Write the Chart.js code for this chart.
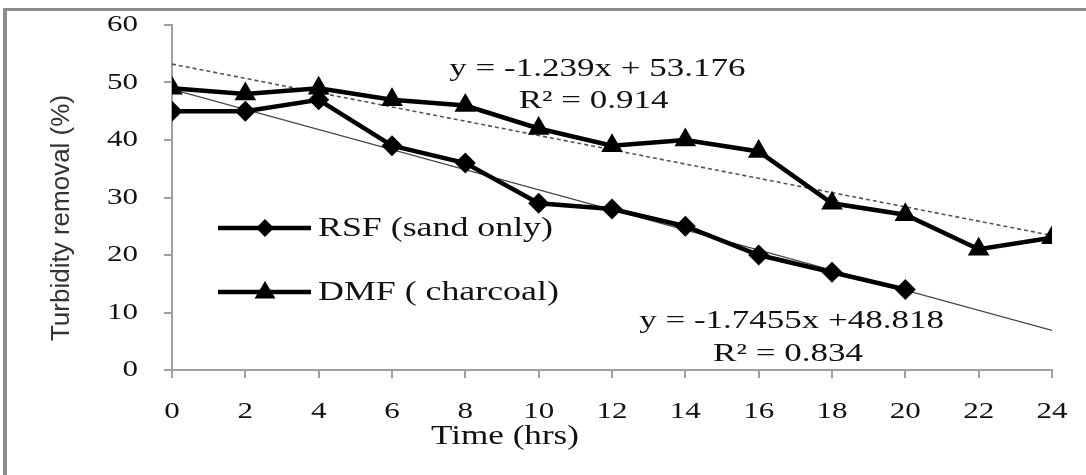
<!DOCTYPE html>
<html>
<head>
<meta charset="utf-8">
<script src="https://cdn.jsdelivr.net/npm/chart.js@4.4.0/dist/chart.umd.min.js"></script>
<style>
  html, body { margin: 0; padding: 0; background: #fff; }
  #wrap { position: relative; width: 1086px; height: 475px; overflow: hidden; }
  /* 원본 그림의 회색 테두리 (왼쪽/위쪽만 보임) */
  #frame { position: absolute; left: 3px; top: 8px; right: -10px; bottom: -10px;
           border-left: 4px solid #8c8c8c; border-top: 3px solid #8c8c8c; }
  canvas { position: absolute; left: 0; top: 0; }
</style>
</head>
<body>
<div id="wrap">
  <div id="frame"></div>
  <canvas id="chart" width="1086" height="475"></canvas>
</div>
<script>
// === 데이터 ===
const hoursRSF = [0, 2, 4, 6, 8, 10, 12, 14, 16, 18, 20];
const rsfRemoval = [45, 45, 47, 39, 36, 29, 28, 25, 20, 17, 14];

const hoursDMF = [0, 2, 4, 6, 8, 10, 12, 14, 16, 18, 20, 22, 24];
const dmfRemoval = [49, 48, 49, 47, 46, 42, 39, 40, 38, 29, 27, 21, 23];

// 추세선 끝점
const trendHours = [0, 24];
const dmfTrend = [53.2, 23.4];
const rsfTrend = [48.8, 6.9];

const timeTicks = [0, 2, 4, 6, 8, 10, 12, 14, 16, 18, 20, 22, 24];
const removalTicks = [0, 10, 20, 30, 40, 50, 60];

const seriesNames = ['RSF (sand only)', 'DMF ( charcoal)'];
const dmfEquation = ['y = -1.239x + 53.176', 'R\u00b2 = 0.914'];
const rsfEquation = ['y = -1.7455x +48.818', 'R\u00b2 = 0.834'];
const xTitle = 'Time (hrs)';
const yTitle = 'Turbidity removal (%)';

const toPoints = (xs, ys) => xs.map((x, i) => ({ x, y: ys[i] }));

const SERIF = '"Liberation Serif", "Times New Roman", serif';
const SANS = '"Liberation Sans", Arial, sans-serif';
const AXIS_GRAY = '#a0a0a0';

// 가로로 약간 늘린 텍스트 (원본 이미지가 가로로 늘어나 있음)
function stretchText(ctx, text, x, y, size, sx, align) {
  ctx.save();
  ctx.font = `${size}px ${SERIF}`;
  ctx.fillStyle = '#111';
  ctx.textBaseline = 'middle';
  const w = ctx.measureText(text).width * sx;
  let left = x;
  if (align === 'center') left = x - w / 2;
  else if (align === 'right') left = x - w;
  ctx.translate(left, y);
  ctx.scale(sx, 1);
  ctx.textAlign = 'left';
  ctx.fillText(text, 0, 0);
  ctx.restore();
}

function marker(ctx, style, x, y, r) {
  ctx.beginPath();
  if (style === 'triangle') {
    ctx.moveTo(x, y - r);
    ctx.lineTo(x + r * 0.95, y + r * 0.6);
    ctx.lineTo(x - r * 0.95, y + r * 0.6);
  } else {
    ctx.moveTo(x, y - r);
    ctx.lineTo(x + r, y);
    ctx.lineTo(x, y + r);
    ctx.lineTo(x - r, y);
  }
  ctx.closePath();
  ctx.fillStyle = '#000';
  ctx.fill();
}

// 범례 + 회귀식 + 축 라벨/제목
const overlayPlugin = {
  id: 'overlay',
  afterDatasetsDraw(chart) {
    const { ctx } = chart;
    const xs = chart.scales.x, ys = chart.scales.y;

    // 눈금 라벨 (스케일 좌표 사용)
    xs.ticks.forEach(t => {
      stretchText(ctx, String(t.value), xs.getPixelForValue(t.value), 412, 23, 1.35, 'center');
    });
    ys.ticks.forEach(t => {
      stretchText(ctx, String(t.value), 138, ys.getPixelForValue(t.value), 23, 1.35, 'right');
    });

    // 범례
    const legend = [
      { name: seriesNames[0], style: 'rectRot', y: 228, r: 9 },
      { name: seriesNames[1], style: 'triangle', y: 292, r: 11 },
    ];
    legend.forEach(l => {
      ctx.save();
      ctx.strokeStyle = '#000';
      ctx.lineWidth = 4.5;
      ctx.beginPath();
      ctx.moveTo(218, l.y);
      ctx.lineTo(311, l.y);
      ctx.stroke();
      ctx.restore();
      marker(ctx, l.style, 265, l.y, l.r);
      stretchText(ctx, l.name, 318, l.y + 1, 28, 1.28, 'left');
    });

    // 회귀식
    stretchText(ctx, dmfEquation[0], xs.getPixelForValue(11.6), ys.getPixelForValue(52.3), 25, 1.4, 'center');
    stretchText(ctx, dmfEquation[1], xs.getPixelForValue(11.5), ys.getPixelForValue(46.7), 25, 1.4, 'center');
    stretchText(ctx, rsfEquation[0], xs.getPixelForValue(16.9), ys.getPixelForValue(8.4), 25, 1.4, 'center');
    stretchText(ctx, rsfEquation[1], xs.getPixelForValue(16.8), ys.getPixelForValue(2.7), 25, 1.4, 'center');

    // x축 제목 (원본은 가운데보다 왼쪽에 있음)
    stretchText(ctx, xTitle, 505, 437, 27, 1.3, 'center');

    // y축 제목
    ctx.save();
    ctx.translate(62, 218);
    ctx.rotate(-Math.PI / 2);
    ctx.font = `26px ${SANS}`;
    ctx.fillStyle = '#333';
    ctx.textAlign = 'center';
    ctx.textBaseline = 'middle';
    ctx.fillText(yTitle, 0, 0);
    ctx.restore();
  }
};

new Chart(document.getElementById('chart'), {
  type: 'scatter',
  data: {
    datasets: [
      {
        label: seriesNames[0],
        data: toPoints(hoursRSF, rsfRemoval),
        showLine: true,
        borderColor: '#000',
        backgroundColor: '#000',
        borderWidth: 4.5,
        pointStyle: 'rectRot',
        pointRadius: 10.5,
        pointBorderWidth: 0,
      },
      {
        label: seriesNames[1],
        data: toPoints(hoursDMF, dmfRemoval),
        showLine: true,
        borderColor: '#000',
        backgroundColor: '#000',
        borderWidth: 4.5,
        pointStyle: 'triangle',
        pointRadius: 12.5,
        pointBorderWidth: 0,
      },
      {
        label: 'DMF trend',
        data: toPoints(trendHours, dmfTrend),
        showLine: true,
        borderColor: '#555',
        borderWidth: 1.6,
        borderDash: [4, 3],
        pointRadius: 0,
      },
      {
        label: 'RSF trend',
        data: toPoints(trendHours, rsfTrend),
        showLine: true,
        borderColor: '#444',
        borderWidth: 1.3,
        pointRadius: 0,
      },
    ],
  },
  options: {
    responsive: false,
    animation: false,
    devicePixelRatio: 1,
    layout: { padding: { left: 0, right: 34, top: 25, bottom: 22 } },
    plugins: { legend: { display: false }, tooltip: { enabled: false } },
    scales: {
      x: {
        type: 'linear',
        min: 0, max: 24,
        afterBuildTicks: (s) => { s.ticks = timeTicks.map(v => ({ value: v })); },
        afterFit: (s) => { s.height = 83; },
        border: { display: true, color: AXIS_GRAY, width: 2 },
        grid: { drawOnChartArea: false, drawTicks: true, tickLength: 8, color: AXIS_GRAY, lineWidth: 2 },
        ticks: { display: false },
      },
      y: {
        min: 0, max: 60,
        afterBuildTicks: (s) => { s.ticks = removalTicks.map(v => ({ value: v })); },
        afterFit: (s) => { s.width = 172; },
        border: { display: true, color: AXIS_GRAY, width: 2 },
        grid: { drawOnChartArea: false, drawTicks: true, tickLength: 8, color: AXIS_GRAY, lineWidth: 2 },
        ticks: { display: false },
      },
    },
  },
  plugins: [overlayPlugin],
});
</script>
</body>
</html>
